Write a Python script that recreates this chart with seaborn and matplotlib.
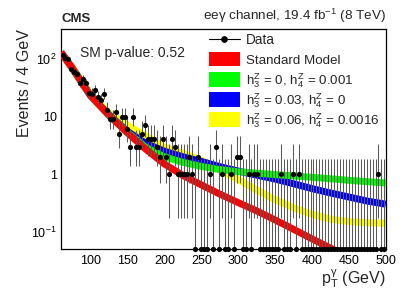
import numpy as np
import pandas as pd
import matplotlib
matplotlib.use('Agg')
import matplotlib.pyplot as plt
import seaborn as sns
from matplotlib.lines import Line2D
from matplotlib.patches import Rectangle
from matplotlib.ticker import FixedLocator, FixedFormatter, MultipleLocator, LogLocator, NullFormatter

sns.set_style('white')
plt.rcParams['font.family'] = ['Liberation Sans', 'DejaVu Sans']
plt.rcParams['mathtext.fontset'] = 'custom'
plt.rcParams['mathtext.rm'] = 'Liberation Sans'
plt.rcParams['mathtext.it'] = 'Liberation Sans:italic'
plt.rcParams['mathtext.bf'] = 'Liberation Sans:bold'

# data: 4 GeV bins from 60 to 500 GeV
bin_centres = np.arange(62, 500, 4)
counts = [117, 103, 99, 66, 59, 55, 39, 44, 38, 26,
          25, 29, 22, 19, 25, 13, 9, 9, 12, 5,
          10, 10, 6, 3, 10, 3, 3, 5, 7, 4,
          4, 4, 3, 2, 4, 2, 1, 4, 3, 1,
          1, 1, 1, 2, 1, 0, 2, 0, 0, 0,
          1, 0, 3, 0, 1, 0, 0, 1, 0, 2,
          2, 0, 0, 1, 0, 1, 1, 0, 0, 0,
          0, 0, 0, 0, 1, 0, 0, 0, 1, 0,
          1, 0, 0, 0, 0, 0, 0, 0, 0, 0,
          0, 0, 0, 0, 0, 0, 0, 0, 0, 0,
          0, 0, 0, 0, 0, 0, 0, 1, 0, 0]

# predictions
pt_curve = [60, 75, 100, 125, 150, 175, 200, 225, 250, 275, 300, 325, 350, 375, 400, 425, 450, 475, 500]
sm_pred = [130, 70, 23, 10.5, 5.2, 2.7, 1.5, 0.95, 0.65, 0.45, 0.32, 0.23, 0.16, 0.11, 0.075, 0.052, 0.036, 0.025, 0.018]
green_pred = [130, 70, 23, 10.5, 5.3, 2.9, 2.0, 1.6, 1.36, 1.2, 1.1, 1.04, 0.98, 0.93, 0.88, 0.83, 0.78, 0.74, 0.7]
blue_pred = [130, 70, 23, 10.7, 5.5, 3.4, 2.5, 2.0, 1.66, 1.35, 1.13, 0.96, 0.82, 0.68, 0.56, 0.47, 0.4, 0.34, 0.3]
yellow_pred = [130, 70, 24, 11.5, 7.0, 4.6, 2.9, 2.3, 1.75, 1.2, 0.8, 0.53, 0.36, 0.26, 0.2, 0.165, 0.15, 0.143, 0.14]

labels = ['Standard Model',
          r'$\mathrm{h}_3^\mathrm{Z}$ = 0, $\mathrm{h}_4^\mathrm{Z}$ = 0.001',
          r'$\mathrm{h}_3^\mathrm{Z}$ = 0.03, $\mathrm{h}_4^\mathrm{Z}$ = 0',
          r'$\mathrm{h}_3^\mathrm{Z}$ = 0.06, $\mathrm{h}_4^\mathrm{Z}$ = 0.0016']
colors = ['#ff0000', '#00ff00', '#0000ff', '#ffff00']

ymin, ymax = 0.05, 330

fig, ax = plt.subplots(figsize=(4.07, 2.94), dpi=100)
fig.subplots_adjust(left=0.150, right=0.948, bottom=0.153, top=0.901)

# bands, yellow at the bottom, red on top
for pred, col, z in [(yellow_pred, colors[3], 2), (blue_pred, colors[2], 3),
                     (green_pred, colors[1], 4), (sm_pred, colors[0], 5)]:
    sns.lineplot(x=pt_curve, y=pred, color=col, linewidth=5.0, ax=ax, zorder=z,
                 solid_capstyle='butt', legend=False)

# data with poisson error bars
n = np.array(counts, dtype=float)
lo = np.where(n > 0, n * (1 - 1 / (9 * np.maximum(n, 1)) - 1 / (3 * np.sqrt(np.maximum(n, 1)))) ** 3, 0)
hi = n + np.sqrt(n + 0.75) + 1
y_plot = np.where(n > 0, n, ymin)
lo = np.maximum(lo, ymin)
ax.errorbar(bin_centres, y_plot, yerr=[y_plot - lo, hi - y_plot], fmt='none',
            ecolor='#5a5a5a', elinewidth=0.75, zorder=6)
df = pd.DataFrame({'pt': bin_centres, 'n': y_plot})
sns.scatterplot(data=df, x='pt', y='n', color='k', s=14, linewidth=0, ax=ax,
                zorder=7, clip_on=False)

ax.set_yscale('log')
ax.set_xlim(60, 500)
ax.set_ylim(ymin, ymax)

ax.yaxis.set_major_locator(FixedLocator([0.1, 1, 10, 100]))
ax.yaxis.set_major_formatter(FixedFormatter([r'$10^{-1}$', '1', '10', r'$10^{2}$']))
ax.yaxis.set_minor_locator(LogLocator(base=10, subs=np.arange(2, 10)))
ax.yaxis.set_minor_formatter(NullFormatter())
ax.xaxis.set_major_locator(FixedLocator([100, 150, 200, 250, 300, 350, 400, 450, 500]))
ax.xaxis.set_minor_locator(MultipleLocator(10))

ax.tick_params(axis='both', which='both', direction='in', labelsize=9, colors='k')
ax.tick_params(axis='y', which='major', length=6.5, width=0.8, pad=3)
ax.tick_params(axis='y', which='minor', length=3.3, width=0.8)
ax.tick_params(axis='x', which='major', length=4.5, width=0.8, pad=4)
ax.tick_params(axis='x', which='minor', length=2.2, width=0.8)
for s in ax.spines.values():
    s.set_linewidth(0.9)
    s.set_color('k')

ax.set_ylabel('Events / 4 GeV', fontsize=11.5, loc='top')
ax.yaxis.set_label_coords(-0.088, 1.0)
ax.set_xlabel(r'$\mathrm{p_T^{\gamma}}$ (GeV)', fontsize=11.5, loc='right')
ax.xaxis.set_label_coords(1.0, -0.082)

ax.text(0.0, 1.02, 'CMS', transform=ax.transAxes, fontsize=9.5, fontweight='bold',
        ha='left', va='bottom')
ax.text(1.0, 1.02, r'eeγ channel, 19.4 fb$^{-1}$ (8 TeV)', transform=ax.transAxes,
        fontsize=9.7, ha='right', va='bottom')
ax.text(0.058, 0.89, 'SM p-value: 0.52', transform=ax.transAxes, fontsize=10,
        ha='left', va='center')

# legend, one row every 20 px, laid out by hand
row_y = 0.955 - 0.091 * np.arange(5)
hx0, hx1, tx = 0.455, 0.551, 0.569
ax.add_line(Line2D([hx0, hx1], [row_y[0]] * 2, transform=ax.transAxes, color='k',
                   linewidth=0.8, zorder=10))
ax.add_line(Line2D([(hx0 + hx1) / 2], [row_y[0]], transform=ax.transAxes, color='k',
                   marker='o', markersize=3.8, zorder=10))
ax.text(tx, row_y[0] - 0.023, 'Data', transform=ax.transAxes, fontsize=9.8,
        ha='left', va='baseline', zorder=10)
for yy, col, lab in zip(row_y[1:], colors, labels):
    ax.add_patch(Rectangle((hx0, yy - 0.034), hx1 - hx0, 0.068, transform=ax.transAxes,
                           facecolor=col, edgecolor='none', zorder=10))
    ax.text(tx, yy - 0.023, lab, transform=ax.transAxes, fontsize=9.6,
            ha='left', va='baseline', zorder=10)

plt.savefig('out.png', dpi=100)
